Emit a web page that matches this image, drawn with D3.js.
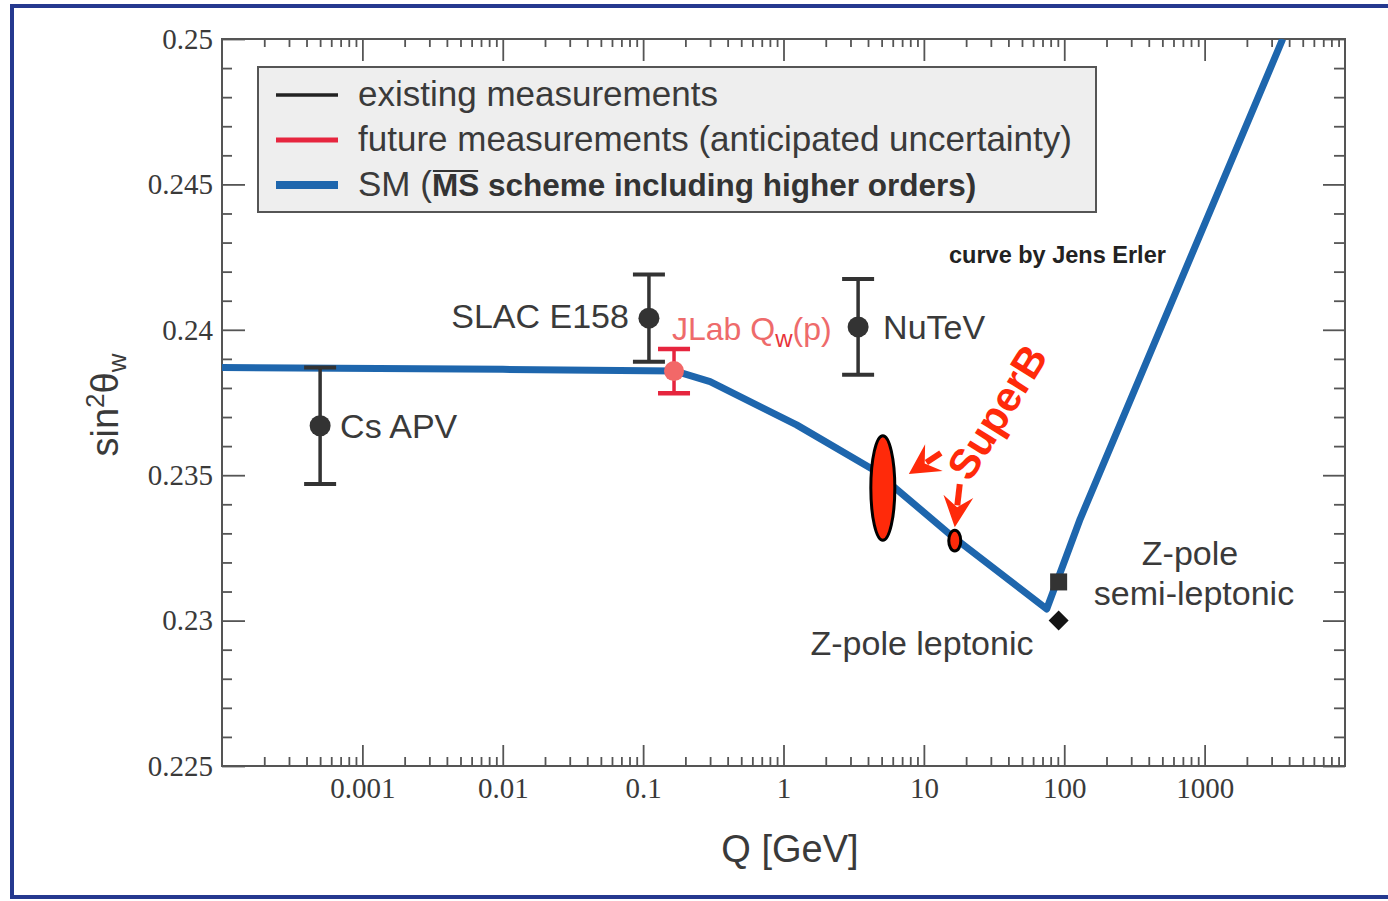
<!DOCTYPE html>
<html>
<head>
<meta charset="utf-8">
<script src="https://cdn.jsdelivr.net/npm/d3@7"></script>
<style>
  body { margin: 0; background: #fff; }
  svg { display: block; }
</style>
</head>
<body>
<svg id="chart" width="1388" height="901"></svg>
<script>
// ---- axis ticks ----
const decadeValues = [0.001, 0.01, 0.1, 1, 10, 100, 1000];
const decadeLabels = ["0.001", "0.01", "0.1", "1", "10", "100", "1000"];
const yMajorValues = [0.225, 0.23, 0.235, 0.24, 0.245, 0.25];
const yMajorLabels = ["0.225", "0.23", "0.235", "0.24", "0.245", "0.25"];

// ---- SM running of the weak mixing angle (MS-bar) ----
const smQ    = [1e-4,   0.01,    0.17,    0.30,    1.24,    4.4,     16,      75,     130,    3600];
const smS2W  = [0.2387, 0.23864, 0.23858, 0.23822, 0.23673, 0.23518, 0.23289, 0.2304, 0.2335, 0.25];

// ---- existing measurements ----
const existNames = ["Cs APV", "SLAC E158", "NuTeV"];
const existQ     = [0.0005, 0.11, 3.4];
const existS2W   = [0.2367, 0.2404, 0.2401];
const existErr   = [0.0020, 0.0015, 0.00165];

// ---- future measurement (anticipated uncertainty) ----
const futureQ   = [0.166];
const futureS2W = [0.23858];
const futureErr = [0.00076];

// ---- Z-pole ----
const zpoleNames = ["Z-pole leptonic", "Z-pole semi-leptonic"];
const zpoleQ     = [91.2, 91.2];
const zpoleS2W   = [0.2300, 0.23133];

// ---- SuperB projections ----
const superbQ   = [5.1, 16.6];
const superbS2W = [0.23456, 0.23275];
const superbErr = [0.0018, 0.00036];

// ---- legend ----
const legendLabels = ["existing measurements", "future measurements (anticipated uncertainty)", "SM"];

// ---------------------------------------------------------------
const SANS = "'Liberation Sans', Arial, Helvetica, sans-serif";
const SERIF = "'Liberation Serif', 'Times New Roman', serif";
const INK = "#3a3a3a";
const AXIS = "#555";
const BLUE = "#1e66ad";
const RED = "#e6253e";
const ORANGE_RED = "#ff2a0a";

const svg = d3.select("#chart");
const plot = { left: 222, right: 1345, top: 39, bottom: 766 };

const x = d3.scaleLog().domain([1e-4, 1e4]).range([plot.left, plot.right]);
const y = d3.scaleLinear().domain([0.225, 0.25]).range([plot.bottom, plot.top]);

// frame around the picture
svg.append("path")
  .attr("d", `M1388,6 H12 V897 H1388`)
  .attr("fill", "none")
  .attr("stroke", "#25398f")
  .attr("stroke-width", 4);

// ---- axes (ticks point inward on all four sides) ----
const isDecade = d => Math.abs(Math.log10(d) - Math.round(Math.log10(d))) < 1e-9;
const xMinor = x.ticks().filter(d => !isDecade(d));
const yAll = d3.range(0, 26).map(i => 0.225 + i * 0.001);
const yMinor = yAll.filter(d => Math.abs(d * 200 - Math.round(d * 200)) > 1e-6);

function styleAxis(g) {
  g.select(".domain").remove();
  g.selectAll(".tick line").attr("stroke", AXIS).attr("stroke-width", 1.8);
  g.selectAll(".tick text")
    .attr("fill", INK)
    .style("font-family", SERIF)
    .style("font-size", "29px");
}

const axes = svg.append("g");
axes.append("g").attr("transform", `translate(0,${plot.bottom})`)
  .call(d3.axisBottom(x).tickValues(xMinor).tickSize(-9).tickFormat(""))
  .call(styleAxis);
axes.append("g").attr("transform", `translate(0,${plot.bottom})`)
  .call(d3.axisBottom(x).tickValues(decadeValues).tickSize(-21).tickPadding(11)
    .tickFormat((d, i) => decadeLabels[i]))
  .call(styleAxis);
axes.append("g").attr("transform", `translate(0,${plot.top})`)
  .call(d3.axisTop(x).tickValues(xMinor).tickSize(-8).tickFormat(""))
  .call(styleAxis);
axes.append("g").attr("transform", `translate(0,${plot.top})`)
  .call(d3.axisTop(x).tickValues(decadeValues).tickSize(-22).tickFormat(""))
  .call(styleAxis);

axes.append("g").attr("transform", `translate(${plot.left},0)`)
  .call(d3.axisLeft(y).tickValues(yMinor).tickSize(-10).tickFormat(""))
  .call(styleAxis);
axes.append("g").attr("transform", `translate(${plot.left},0)`)
  .call(d3.axisLeft(y).tickValues(yMajorValues).tickSize(-23).tickPadding(9)
    .tickFormat((d, i) => yMajorLabels[i]))
  .call(styleAxis);
axes.append("g").attr("transform", `translate(${plot.right},0)`)
  .call(d3.axisRight(y).tickValues(yMinor).tickSize(-11).tickFormat(""))
  .call(styleAxis);
axes.append("g").attr("transform", `translate(${plot.right},0)`)
  .call(d3.axisRight(y).tickValues(yMajorValues).tickSize(-22).tickFormat(""))
  .call(styleAxis);

svg.append("rect")
  .attr("x", plot.left).attr("y", plot.top)
  .attr("width", plot.right - plot.left).attr("height", plot.bottom - plot.top)
  .attr("fill", "none").attr("stroke", AXIS).attr("stroke-width", 2);

// axis titles
svg.append("text")
  .attr("x", 790).attr("y", 862)
  .attr("text-anchor", "middle")
  .attr("fill", INK)
  .style("font-family", SANS).style("font-size", "38px")
  .text("Q [GeV]");

const yTitle = svg.append("text")
  .attr("transform", "translate(118,405) rotate(-90)")
  .attr("text-anchor", "middle")
  .attr("fill", INK)
  .style("font-family", SANS).style("font-size", "38px");
yTitle.append("tspan").text("sin");
yTitle.append("tspan").attr("dy", -14).style("font-size", "26px").text("2");
yTitle.append("tspan").attr("dy", 14).text("θ");
yTitle.append("tspan").attr("dy", 8).style("font-size", "26px").text("w");

// ---- clip for data ----
svg.append("clipPath").attr("id", "plotClip")
  .append("rect")
  .attr("x", plot.left).attr("y", plot.top)
  .attr("width", plot.right - plot.left).attr("height", plot.bottom - plot.top);

const data = svg.append("g").attr("clip-path", "url(#plotClip)");

// SM curve
const smLine = d3.line().x(d => x(d[0])).y(d => y(d[1]));
data.append("path")
  .datum(smQ.map((q, i) => [q, smS2W[i]]))
  .attr("d", smLine)
  .attr("fill", "none")
  .attr("stroke", BLUE)
  .attr("stroke-width", 7)
  .attr("stroke-linejoin", "round");

// error bars
function errorBar(q, v, e, color, width, capWidth) {
  const cx = x(q);
  const g = data.append("g");
  g.append("line")
    .attr("x1", cx).attr("x2", cx).attr("y1", y(v + e)).attr("y2", y(v - e))
    .attr("stroke", color).attr("stroke-width", width);
  [v + e, v - e].forEach(w => {
    g.append("line")
      .attr("x1", cx - 16).attr("x2", cx + 16).attr("y1", y(w)).attr("y2", y(w))
      .attr("stroke", color).attr("stroke-width", capWidth);
  });
  return g;
}

existQ.forEach((q, i) => {
  errorBar(q, existS2W[i], existErr[i], "#333", 3.5, 4);
  data.append("circle")
    .attr("cx", x(q)).attr("cy", y(existS2W[i])).attr("r", 10.5)
    .attr("fill", "#333");
});

futureQ.forEach((q, i) => {
  errorBar(q, futureS2W[i], futureErr[i], RED, 3.5, 4.5);
  data.append("circle")
    .attr("cx", x(q)).attr("cy", y(futureS2W[i])).attr("r", 10)
    .attr("fill", "#f26868");
});

// Z-pole markers: diamond (leptonic), square (semi-leptonic)
data.append("path")
  .attr("d", d3.symbol(d3.symbolSquare, 200)())
  .attr("transform", `translate(${x(zpoleQ[0])},${y(zpoleS2W[0])}) rotate(45)`)
  .attr("fill", "#141414");
data.append("path")
  .attr("d", d3.symbol(d3.symbolSquare, 290)())
  .attr("transform", `translate(${x(zpoleQ[1])},${y(zpoleS2W[1])})`)
  .attr("fill", "#333");

// SuperB ellipses
const superbRx = [12, 6];
superbQ.forEach((q, i) => {
  data.append("ellipse")
    .attr("cx", x(q)).attr("cy", y(superbS2W[i]))
    .attr("rx", superbRx[i])
    .attr("ry", y(superbS2W[i] - superbErr[i]) - y(superbS2W[i]))
    .attr("fill", ORANGE_RED)
    .attr("stroke", "#000")
    .attr("stroke-width", 3);
});

// arrows pointing to the SuperB projections
function arrow(x1, y1, x2, y2, headLen, headHalf) {
  const dx = x2 - x1, dy = y2 - y1;
  const L = Math.hypot(dx, dy);
  const ux = dx / L, uy = dy / L, nx = -uy, ny = ux;
  const bx = x2 - ux * headLen, by = y2 - uy * headLen;
  const g = svg.append("g");
  g.append("line")
    .attr("x1", x1).attr("y1", y1).attr("x2", bx + ux * 6).attr("y2", by + uy * 6)
    .attr("stroke", ORANGE_RED).attr("stroke-width", 6);
  g.append("path")
    .attr("d", `M${x2},${y2} L${bx - ux * 3 + nx * headHalf},${by - uy * 3 + ny * headHalf} L${bx + ux * 8},${by + uy * 8} L${bx - ux * 3 - nx * headHalf},${by - uy * 3 - ny * headHalf} Z`)
    .attr("fill", ORANGE_RED);
}
{
  const ex = x(superbQ[0]) + superbRx[0] + 14, ey = y(superbS2W[0]) - 14;
  arrow(ex + 32, ey - 21, ex, ey, 27, 16);
  const sx = x(superbQ[1]), sy = y(superbS2W[1]) - (y(superbS2W[1] - superbErr[1]) - y(superbS2W[1]));
  arrow(sx + 5, sy - 46, sx, sy - 3, 28, 15);
}

svg.append("text")
  .attr("transform", "translate(997,412) rotate(-58)")
  .attr("text-anchor", "middle")
  .attr("dy", "0.35em")
  .attr("fill", ORANGE_RED)
  .style("font-family", SANS).style("font-size", "42px").style("font-weight", "bold")
  .text("SuperB");

// ---- point labels ----
const labelStyle = sel => sel.attr("fill", INK).style("font-family", SANS).style("font-size", "34px");

svg.append("text").call(labelStyle)
  .attr("x", x(existQ[0]) + 20).attr("y", y(existS2W[0]) + 12)
  .text(existNames[0]);
svg.append("text").call(labelStyle)
  .attr("x", x(existQ[1]) - 20).attr("y", y(existS2W[1]) + 10)
  .attr("text-anchor", "end")
  .text(existNames[1]);
svg.append("text").call(labelStyle)
  .attr("x", x(existQ[2]) + 25).attr("y", y(existS2W[2]) + 12)
  .text(existNames[2]);

const jlab = svg.append("text")
  .attr("x", x(futureQ[0]) - 2).attr("y", 340)
  .attr("fill", "#ee6b6b")
  .style("font-family", SANS).style("font-size", "32px");
jlab.append("tspan").text("JLab Q");
jlab.append("tspan").attr("dy", 7).style("font-size", "24px").attr("fill", "#e8333a").text("w");
jlab.append("tspan").attr("dy", -7).text("(p)");

svg.append("text").call(labelStyle)
  .attr("x", 922).attr("y", 655)
  .attr("text-anchor", "middle")
  .text(zpoleNames[0]);
const zsl = svg.append("text").call(labelStyle).attr("text-anchor", "middle");
zsl.append("tspan").attr("x", 1190).attr("y", 565).text("Z-pole");
zsl.append("tspan").attr("x", 1194).attr("y", 605).text("semi-leptonic");

svg.append("text")
  .attr("x", 949).attr("y", 263)
  .attr("fill", "#222")
  .style("font-family", SANS).style("font-size", "23.5px").style("font-weight", "bold")
  .text("curve by Jens Erler");

// ---- legend ----
const lg = svg.append("g");
lg.append("rect")
  .attr("x", 258).attr("y", 67).attr("width", 838).attr("height", 145)
  .attr("fill", "#eeeeee").attr("stroke", "#555").attr("stroke-width", 2);

const legendColors = ["#222", RED, BLUE];
const legendWidths = [3.5, 5, 8];
const rowY = [95, 140, 185];
legendLabels.forEach((lab, i) => {
  lg.append("line")
    .attr("x1", 276).attr("x2", 338).attr("y1", rowY[i]).attr("y2", rowY[i])
    .attr("stroke", legendColors[i]).attr("stroke-width", legendWidths[i]);
});
lg.append("text").attr("x", 358).attr("y", rowY[0] + 11)
  .attr("fill", INK).style("font-family", SANS).style("font-size", "35px")
  .text(legendLabels[0]);
lg.append("text").attr("x", 358).attr("y", rowY[1] + 11)
  .attr("fill", INK).style("font-family", SANS).style("font-size", "35px")
  .text(legendLabels[1]);

const smText = lg.append("text").attr("x", 358).attr("y", rowY[2] + 11)
  .attr("fill", INK).style("font-family", SANS).style("font-size", "35px")
  .text(legendLabels[2] + " (");
const smW = smText.node().getComputedTextLength();
const msText = lg.append("text").attr("x", 358 + smW).attr("y", rowY[2] + 11)
  .attr("fill", "#333").style("font-family", SANS).style("font-size", "31.5px").style("font-weight", "bold")
  .text("MS");
const msW = msText.node().getComputedTextLength();
lg.append("line")
  .attr("x1", 358 + smW + 1).attr("x2", 358 + smW + msW - 1)
  .attr("y1", rowY[2] - 14).attr("y2", rowY[2] - 14)
  .attr("stroke", "#333").attr("stroke-width", 2);
lg.append("text").attr("x", 358 + smW + msW).attr("y", rowY[2] + 11)
  .attr("fill", "#333").style("font-family", SANS).style("font-size", "31.5px").style("font-weight", "bold")
  .text("\u00a0scheme including higher orders)");
</script>
</body>
</html>
